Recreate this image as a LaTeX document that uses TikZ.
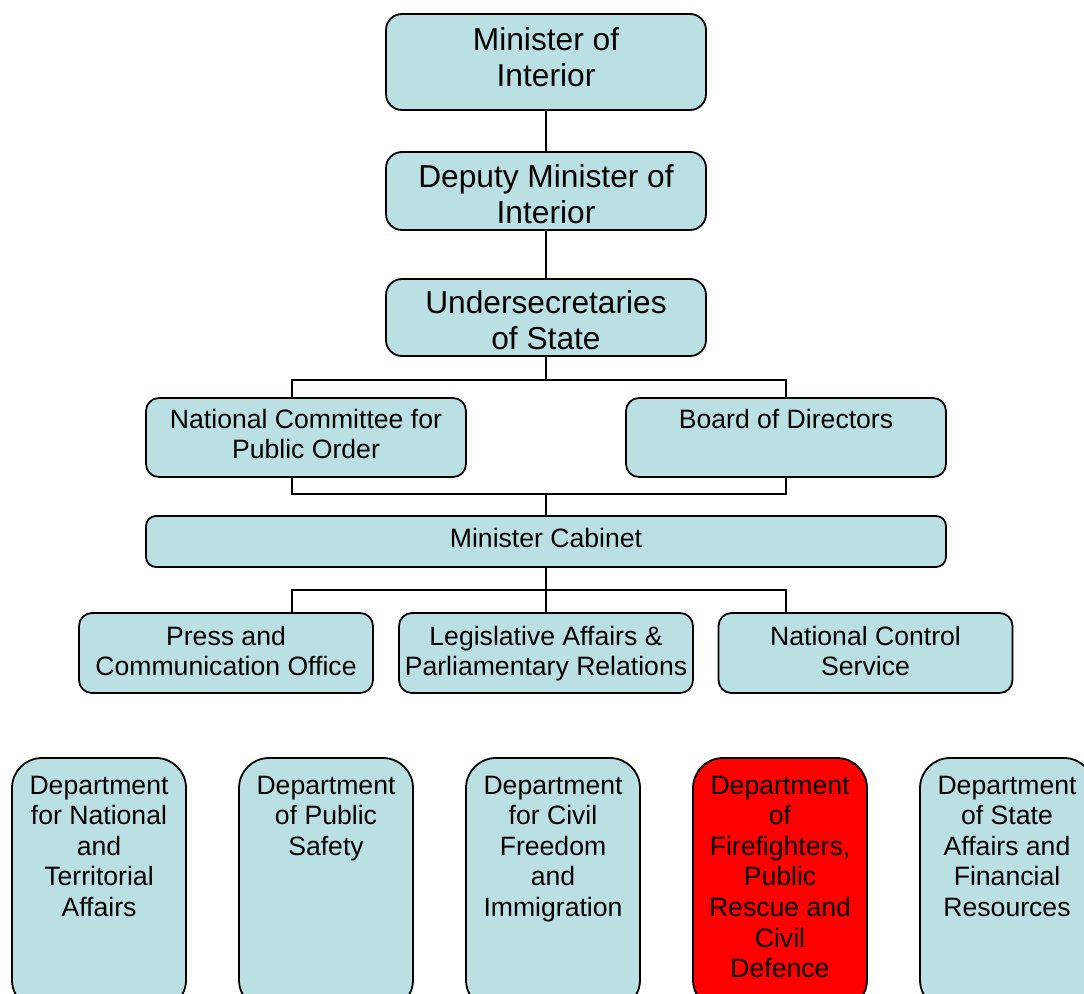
\documentclass[tikz,border=0pt]{standalone}
\usepackage{fontspec}
\setmainfont{Liberation Sans}
\definecolor{paleblue}{RGB}{187,224,227}
% box content: fixed height #1, width #2, first baseline #3 below the top edge
\newcommand{\boxtxt}[4]{\parbox[c][#1][t]{#2}{\centering\rule{0pt}{#3}#4}}
\tikzset{
  orgbox/.style={draw=black, line width=1.8pt, fill=paleblue, rounded corners=13pt,
    inner sep=0pt, font=\fontsize{26.6}{30.6}\selectfont},
  topbox/.style={orgbox, rounded corners=16pt, font=\fontsize{31.7}{36}\selectfont},
  cabbox/.style={orgbox, rounded corners=10pt},
  deptbox/.style={orgbox, rounded corners=30pt},
  alertbox/.style={deptbox, fill=red},
  link/.style={line width=1.6pt}
}
\begin{document}
\begin{tikzpicture}[x=1pt,y=-1pt]
\useasboundingbox (0,0) rectangle (1084,993);
\clip (0,0) rectangle (1084,993);

% leadership chain
\node[topbox] (min) at (546,62)    {\boxtxt{96pt}{320pt}{36pt}{Minister of\\Interior}};
\node[topbox] (dep) at (546,191)   {\boxtxt{78pt}{320pt}{35pt}{Deputy Minister of\\Interior}};
\node[topbox] (und) at (546,317.5) {\boxtxt{77pt}{320pt}{34pt}{Undersecretaries\\of State}};

% committees
\node[orgbox] (ncpo) at (306,437.5) {\boxtxt{79pt}{320pt}{30pt}{National Committee for\\Public Order}};
\node[orgbox] (bod)  at (786,437.5) {\boxtxt{79pt}{320pt}{30pt}{Board of Directors}};

% cabinet
\node[cabbox] (cab) at (546,541.5) {\boxtxt{51pt}{800pt}{31pt}{Minister Cabinet}};

% offices
\node[orgbox] (press) at (226,653)   {\boxtxt{80pt}{294pt}{32pt}{Press and\\Communication Office}};
\node[orgbox] (leg)   at (546,653)   {\boxtxt{80pt}{294pt}{32pt}{Legislative Affairs \&\\Parliamentary Relations}};
\node[orgbox] (ncs)   at (865.5,653) {\boxtxt{80pt}{294pt}{32pt}{National Control\\Service}};

% departments
\node[deptbox]  (d1) at (99,884)   {\boxtxt{252pt}{174pt}{36pt}{Department\\for National\\and\\Territorial\\Affairs}};
\node[deptbox]  (d2) at (326,884)  {\boxtxt{252pt}{174pt}{36pt}{Department\\of Public\\Safety}};
\node[deptbox]  (d3) at (553,884)  {\boxtxt{252pt}{174pt}{36pt}{Department\\for Civil\\Freedom\\and\\Immigration}};
\node[alertbox] (d4) at (780,884)  {\boxtxt{252pt}{174pt}{36pt}{Department\\of\\Firefighters,\\Public\\Rescue and\\Civil\\Defence}};
\node[deptbox]  (d5) at (1007,884) {\boxtxt{252pt}{174pt}{36pt}{Department\\of State\\Affairs and\\Financial\\Resources}};

% connectors
\coordinate (j1) at (546,380);
\coordinate (j2) at (546,494);
\coordinate (j3) at (546,590);
\draw[link] (min.south) -- (dep.north);
\draw[link] (dep.south) -- (und.north);
\draw[link] (und.south) -- (j1);
\draw[link] ([xshift=-14pt]ncpo.north) |- (j1) -| (bod.north);
\draw[link] ([xshift=-14pt]ncpo.south) |- (j2) -| (bod.south);
\draw[link] (j2) -- (cab.north);
\draw[link] (cab.south) -- (j3);
\draw[link] ([xshift=66pt]press.north) |- (j3) -| ([xshift=-79.5pt]ncs.north);
\draw[link] (j3) -- (leg.north);
\end{tikzpicture}
\end{document}
